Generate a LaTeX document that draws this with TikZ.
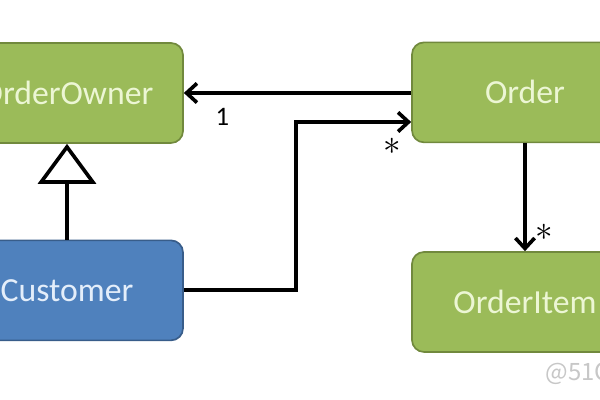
\documentclass[tikz,border=0pt]{standalone}
\usepackage{fontspec}
\setmainfont{Carlito}
\newfontfamily\cjk{Noto Sans CJK SC}
\usepackage{xcolor}
\usepackage{tikz}
\usetikzlibrary{arrows.meta}
\usetikzlibrary{calc}

\definecolor{boxgreen}{RGB}{155,187,89}
\definecolor{edgegreen}{RGB}{113,137,61}
\definecolor{textgreen}{RGB}{236,246,212}
\definecolor{boxblue}{RGB}{79,129,189}
\definecolor{edgeblue}{RGB}{56,93,138}
\definecolor{textblue}{RGB}{228,238,250}

\begin{document}
\begin{tikzpicture}[
		classbox/.style={rectangle, rounded corners=0.3cm, line width=1.2pt,
			minimum width=5.8cm, minimum height=2.5cm, font=\fontsize{24}{28}\selectfont},
		greenbox/.style={classbox, fill=boxgreen, draw=edgegreen, text=textgreen},
		bluebox/.style={classbox, fill=boxblue, draw=edgeblue, text=textblue},
		assoc/.style={line width=2.8pt, -{Straight Barb[length=2.6mm, width=4.8mm, line width=2.6pt]}},
		gen/.style={line width=2.8pt, -{Triangle[open, length=1cm, width=1.45cm, line width=2.6pt]}},
		mult/.style={font=\fontsize{19}{22}\selectfont},
		star/.style={inner sep=0pt, font=\fontsize{24}{28}\selectfont}
	]
			\useasboundingbox (0,0) rectangle (15,10);
			\clip (0,0) rectangle (15,10);

			% Classes
			\node[greenbox] (owner) at (1.675,7.675) {OrderOwner};
			\node[bluebox] (customer) at (1.675,2.74) {Customer};
			\node[greenbox, minimum width=5.65cm] (order) at (13.125,7.69) {Order};
			\node[greenbox, minimum width=5.65cm] (item) at (13.125,2.45) {OrderItem};

			% Inheritance
			\draw[gen] (customer.north) -- (owner.south);

			% Associations
			\draw[assoc] (order.west |- owner.east) -- (owner.east)
				node[mult, pos=0.83, below=6pt] {1};
			\coordinate (bend) at (7.4,6.95);
			\draw[assoc] (customer.east) -| (bend) -- (bend -| order.west) coordinate (tip1);
			\node[star] (many1) at ($(tip1)+(-0.475,-0.62)$) {$\ast$};
			\draw[assoc] (order.south) -- (item.north) coordinate (tip2);
			\node[star] (many2) at ($(tip2)+(0.475,0.47)$) {$\ast$};

			% Watermark
			\node[anchor=west, text=black!22, font=\cjk\fontsize{17}{20}\selectfont] (mark) at (13.52,0.7) {@51CTO博客};
		\end{tikzpicture}
\end{document}
